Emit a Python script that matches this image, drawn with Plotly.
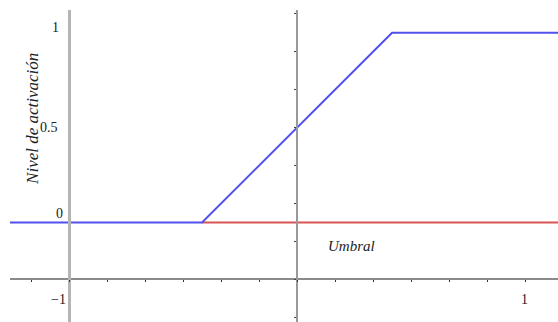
import plotly.graph_objects as go

# ---- data ----
act_x = [-1.2588, -0.4167, 0.4167, 1.1447]
act_y = [0, 0, 1, 1]
umbral_x = [-0.4167, 1.1447]
umbral_y = [0, 0]

ylabel_vals = [1, 0.5, 0]
ylabel_text = ["1", "0.5", "0"]
xlabel_vals = [-1, 1]
xlabel_text = ["\u22121", "1"]

xtick_vals = [k / 6 for k in range(-7, 7)]
ytick_vals = [-0.5, -0.3, -0.1, 0.1, 0.3, 0.5, 0.7, 0.9, 1.1]

XR = [-1.2588, 1.1447]
YR = [-0.5242, 1.1196]

W, H = 558, 322
ML, MR, MT, MB = 10, 0, 10, 0

def paper_x(v):
    return (v - XR[0]) / (XR[1] - XR[0])

def paper_y(v):
    return (v - YR[0]) / (YR[1] - YR[0])

serif = "Liberation Serif, Times New Roman, serif"

fig = go.Figure()
fig.add_trace(go.Scatter(x=umbral_x, y=umbral_y, mode="lines",
                         line=dict(color="#d95454", width=2), hoverinfo="skip"))
fig.add_trace(go.Scatter(x=act_x, y=act_y, mode="lines",
                         line=dict(color="#5050ee", width=2), hoverinfo="skip"))
# invisible trace on second y axis so it renders
fig.add_trace(go.Scatter(x=[XR[0]], y=[YR[0]], yaxis="y2", mode="markers",
                         marker=dict(opacity=0), hoverinfo="skip"))

fig.update_layout(
    width=W, height=H,
    margin=dict(l=ML, r=MR, t=MT, b=MB, pad=0),
    paper_bgcolor="white", plot_bgcolor="white",
    showlegend=False,
    xaxis=dict(range=XR, showgrid=False, zeroline=False, showline=True,
               linecolor="#8a8a8a", linewidth=1.5,
               anchor="free", position=paper_y(-0.3),
               tickmode="array", tickvals=xtick_vals, ticks="outside",
               ticklen=2, tickwidth=1, tickcolor="#333", showticklabels=False),
    yaxis=dict(range=YR, showgrid=False, zeroline=False, showline=True,
               linecolor="#999999", linewidth=2,
               anchor="free", position=paper_x(0),
               tickmode="array", tickvals=ytick_vals, ticks="outside",
               ticklen=2, tickwidth=1, tickcolor="#444", showticklabels=False),
    yaxis2=dict(range=YR, overlaying="y", showgrid=False, zeroline=False,
                showline=True, linecolor="#b5b5b5", linewidth=3,
                anchor="free", position=paper_x(-1),
                ticks="", showticklabels=False),
)

annots = []
yl_shift = [5, 0, 9]
yl_xshift = [-14, -20, -10]
for v, t, ys, xs in zip(ylabel_vals, ylabel_text, yl_shift, yl_xshift):
    annots.append(dict(x=-1, y=v, xref="x", yref="y", text=t, showarrow=False,
                       xanchor="center", yanchor="middle", xshift=xs, yshift=ys,
                       font=dict(family=serif, size=14, color="#222")))
xl_xshift = [-11, -1]
for v, t, xs in zip(xlabel_vals, xlabel_text, xl_xshift):
    annots.append(dict(x=v, y=-0.3, xref="x", yref="y", text=t, showarrow=False,
                       xanchor="center", yanchor="middle", xshift=xs, yshift=-20,
                       font=dict(family=serif, size=14, color="#222")))
annots.append(dict(x=0.24, y=-0.125, xref="x", yref="y", text="<i>Umbral</i>",
                   showarrow=False, xanchor="center", yanchor="middle",
                   font=dict(family=serif, size=15, color="#222")))
annots.append(dict(x=-1.163, y=0.545, xref="x", yref="y",
                   text="<i>Nivel de activación</i>", showarrow=False,
                   textangle=-90, xanchor="center", yanchor="middle",
                   font=dict(family=serif, size=17, color="#222")))
fig.update_layout(annotations=annots)

fig.write_html("out.html", config={"displayModeBar": False},
               post_script="document.body.style.margin='0';document.body.style.overflow='hidden';")
